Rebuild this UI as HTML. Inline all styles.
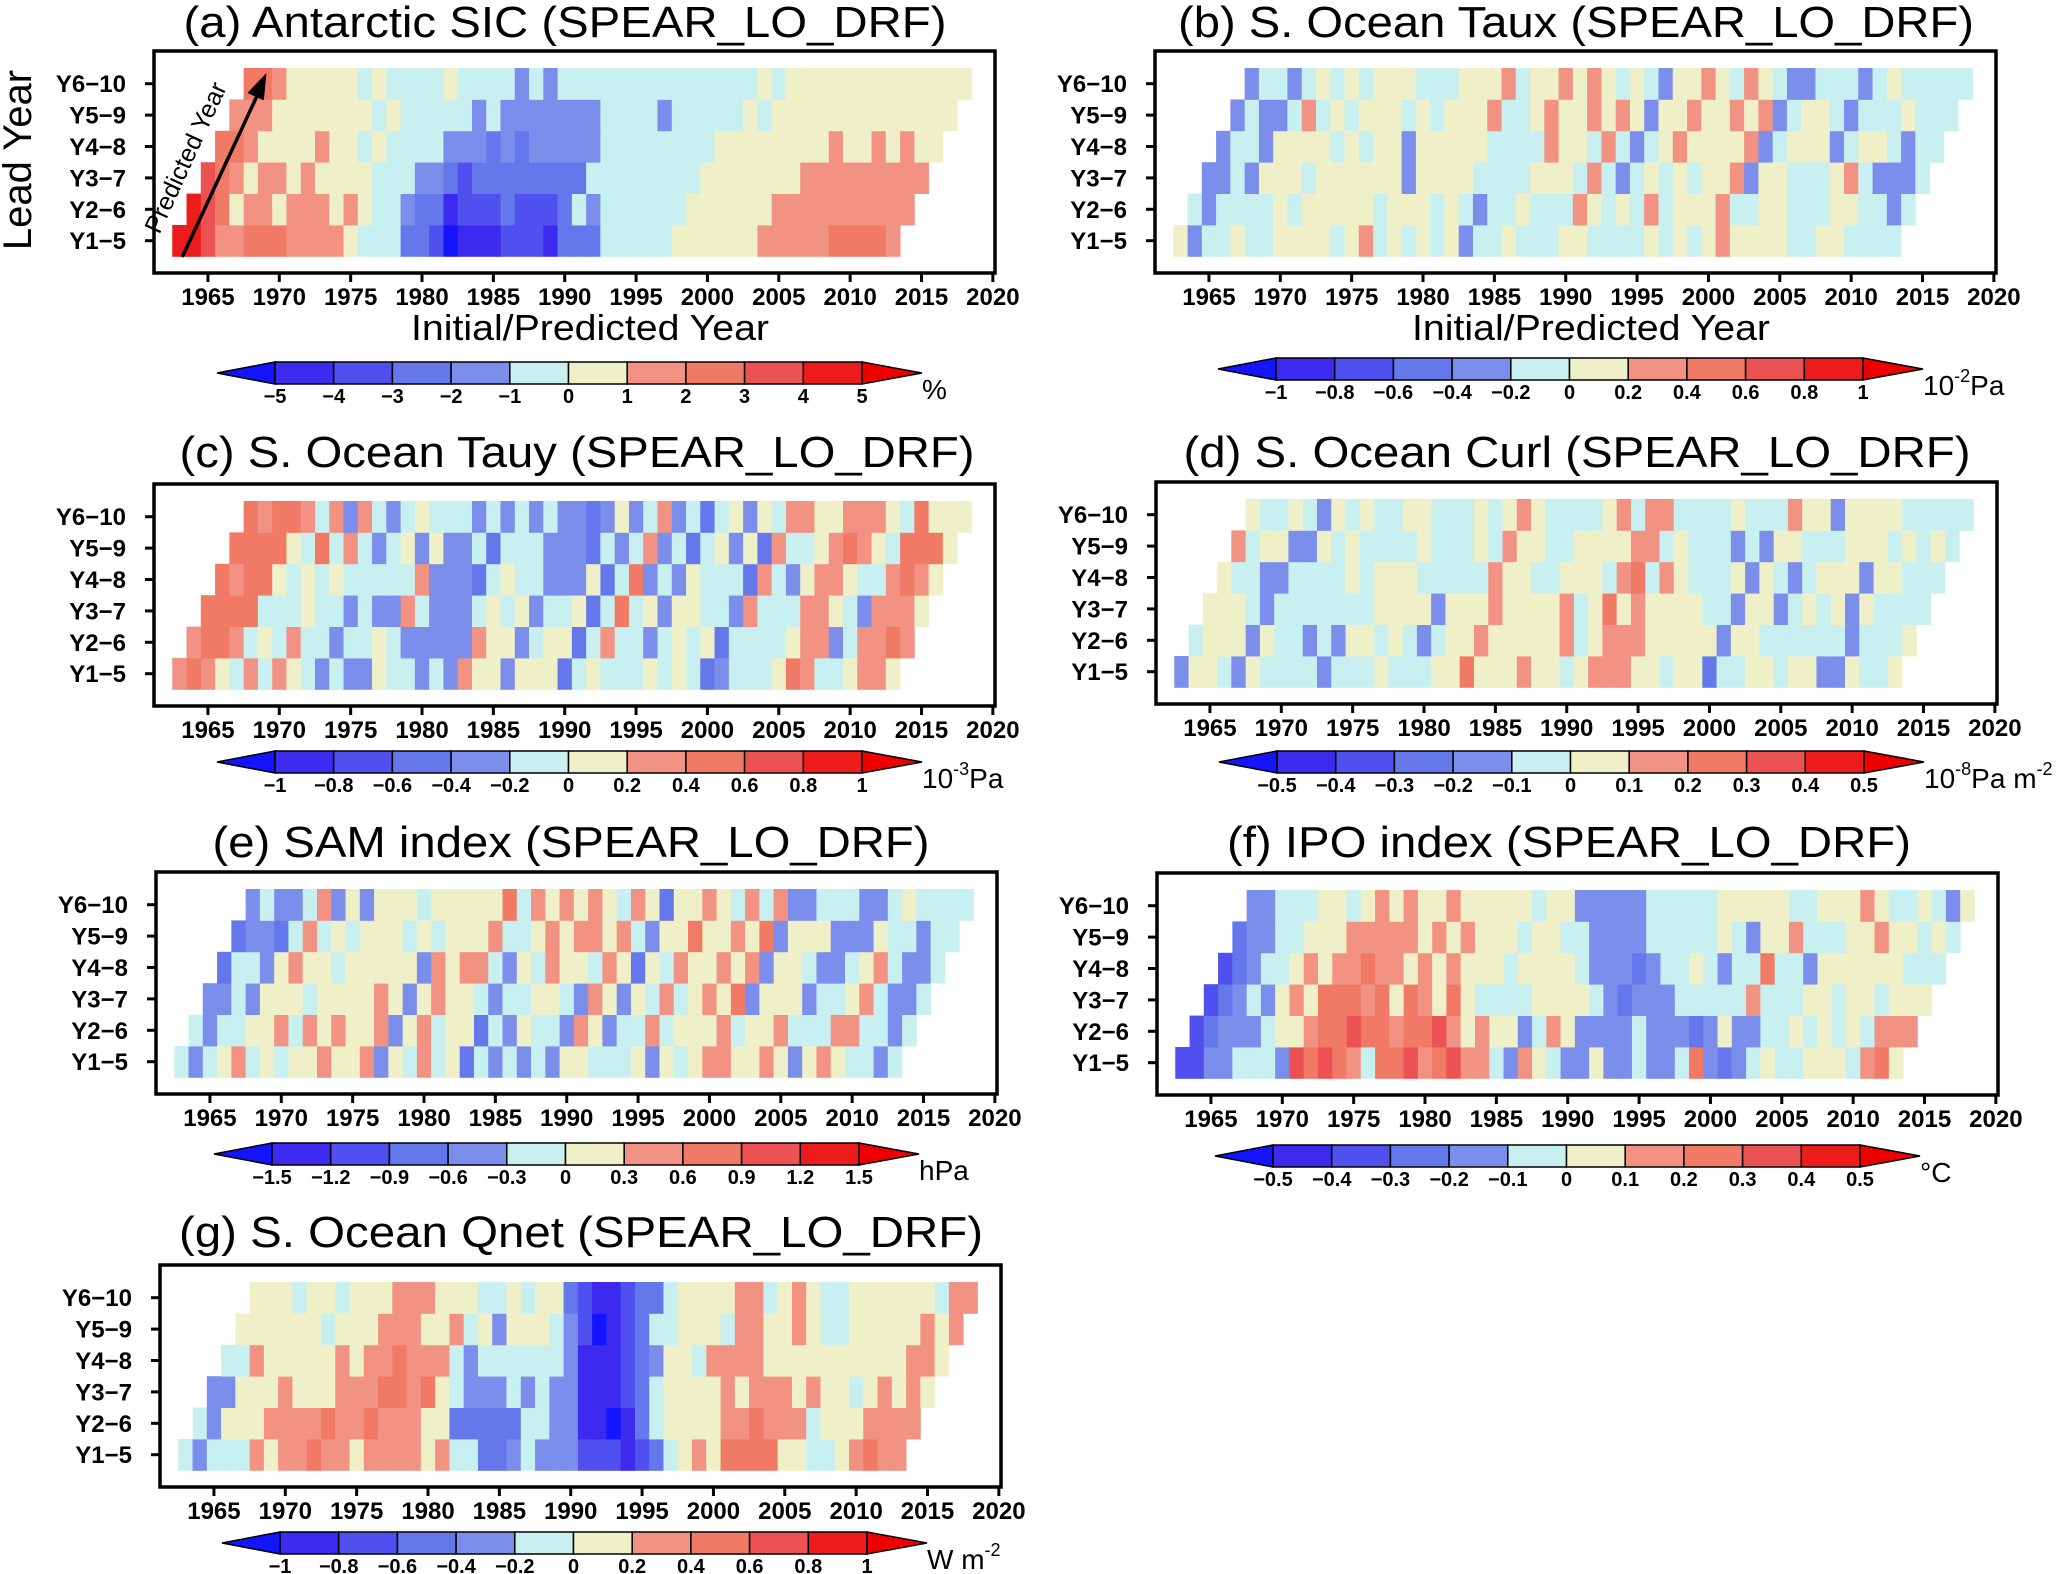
<!DOCTYPE html>
<html><head><meta charset="utf-8"><style>
body{margin:0;background:#fff}
svg{display:block;font-family:"Liberation Sans",Arial,sans-serif}
</style></head><body>
<svg id="fig" width="2067" height="1574" viewBox="0 0 2067 1574"></svg>
<script>
// Lead-year rows (Y1-5 first) and x-axis ticks
const leadLabels = ["Y1-5","Y2-6","Y3-7","Y4-8","Y5-9","Y6-10"];
const leadStartYears = [1963,1964,1965,1966,1967,1968];
const yearTicks = [1965,1970,1975,1980,1985,1990,1995,2000,2005,2010,2015,2020];
// Values are in units of each panel's colorbar interval
const sicRows = [
[4.5,4.5,3.5,1.5,1.5,2.5,2.5,2.5,1.5,1.5,1.5,1.5,.5,-.5,-.5,-.5,-2.5,-2.5,-3.5,-5.5,-4.5,-4.5,-4.5,-3.5,-3.5,-3.5,-4.5,-2.5,-2.5,-2.5,-.5,-.5,-.5,-.5,-.5,.5,.5,.5,.5,.5,.5,1.5,1.5,1.5,1.5,1.5,2.5,2.5,2.5,2.5,1.5],
[4.5,3.5,2.5,.5,1.5,1.5,.5,1.5,1.5,1.5,.5,1.5,.5,-.5,-.5,-1.5,-2.5,-2.5,-4.5,-3.5,-3.5,-3.5,-2.5,-3.5,-3.5,-3.5,-2.5,-.5,-1.5,-.5,-.5,-.5,-.5,-.5,-.5,.5,.5,.5,.5,.5,.5,1.5,1.5,1.5,1.5,1.5,1.5,1.5,1.5,1.5,1.5],
[3.5,2.5,1.5,.5,1.5,1.5,.5,1.5,.5,.5,.5,.5,-.5,-.5,-.5,-1.5,-1.5,-2.5,-3.5,-2.5,-2.5,-2.5,-2.5,-2.5,-2.5,-2.5,-2.5,-.5,-.5,-.5,-.5,-.5,-.5,-.5,-.5,.5,.5,.5,.5,.5,.5,.5,1.5,1.5,1.5,1.5,1.5,1.5,1.5,1.5,1.5],
[2.5,2.5,1.5,.5,.5,.5,.5,1.5,.5,.5,-.5,.5,-.5,-.5,-.5,-.5,-1.5,-1.5,-1.5,-2.5,-1.5,-2.5,-1.5,-1.5,-1.5,-1.5,-1.5,-.5,-.5,-.5,-.5,-.5,-.5,-.5,-.5,.5,.5,.5,.5,.5,.5,.5,.5,1.5,.5,.5,1.5,.5,1.5,.5,.5],
[1.5,1.5,1.5,.5,.5,.5,.5,.5,.5,.5,-.5,.5,-.5,-.5,-.5,-.5,-.5,-1.5,-.5,-1.5,-1.5,-1.5,-1.5,-1.5,-1.5,-1.5,-.5,-.5,-.5,-.5,-1.5,-.5,-.5,-.5,-.5,-.5,.5,-.5,.5,.5,.5,.5,.5,.5,.5,.5,.5,.5,.5,.5,.5],
[2.5,2.5,1.5,.5,.5,.5,.5,.5,-.5,.5,-.5,-.5,-.5,-.5,.5,-.5,-.5,-.5,-.5,-1.5,-.5,-1.5,-.5,-.5,-.5,-.5,-.5,-.5,-.5,-.5,-.5,-.5,-.5,-.5,-.5,-.5,.5,-.5,.5,.5,.5,.5,.5,.5,.5,.5,.5,.5,.5,.5,.5]];
const tauxRows = [
[.5,-1.5,-.5,-.5,.5,-.5,-.5,.5,.5,.5,.5,-.5,.5,1.5,-.5,.5,-.5,.5,-.5,.5,-1.5,-.5,-.5,.5,-.5,-.5,-.5,.5,.5,-.5,-.5,-.5,-.5,.5,-.5,.5,-.5,.5,1.5,.5,.5,.5,.5,-.5,-.5,.5,.5,-.5,-.5,-.5,-.5],
[-.5,-1.5,-.5,-.5,-.5,-.5,.5,-.5,.5,.5,.5,.5,.5,-.5,.5,.5,.5,-.5,.5,-.5,-1.5,-.5,-.5,.5,-.5,-.5,-.5,1.5,.5,-.5,.5,-.5,1.5,-.5,.5,.5,.5,1.5,-.5,-.5,.5,.5,-.5,-.5,-.5,.5,.5,-.5,-.5,-1.5,-.5],
[-1.5,-1.5,-.5,-1.5,.5,.5,.5,-.5,.5,.5,.5,.5,.5,.5,-1.5,.5,.5,.5,.5,-.5,-.5,-.5,-.5,.5,.5,.5,-.5,1.5,-.5,-1.5,-.5,.5,-.5,.5,-.5,.5,.5,1.5,-1.5,.5,.5,-.5,-.5,-.5,.5,1.5,-.5,-1.5,-1.5,-1.5,-.5],
[-1.5,-.5,-.5,-1.5,.5,.5,.5,.5,-.5,.5,-.5,.5,.5,-1.5,.5,.5,.5,.5,.5,-.5,-.5,-.5,-.5,1.5,.5,.5,-.5,1.5,-.5,-1.5,-.5,.5,1.5,.5,.5,.5,.5,1.5,-1.5,-.5,.5,.5,.5,-1.5,-.5,.5,.5,-.5,-1.5,-.5,-.5],
[-1.5,-.5,-1.5,-1.5,-.5,1.5,-.5,.5,-.5,.5,.5,.5,-.5,.5,-.5,.5,.5,.5,1.5,-.5,-.5,.5,1.5,.5,.5,1.5,.5,1.5,.5,-1.5,.5,.5,1.5,.5,.5,1.5,.5,1.5,-1.5,-.5,.5,.5,-.5,-1.5,-.5,-.5,-.5,.5,-.5,-.5,-.5],
[-1.5,-.5,-.5,-1.5,-.5,.5,-.5,.5,-.5,.5,.5,.5,-.5,-.5,-.5,.5,.5,.5,1.5,-.5,.5,.5,1.5,.5,1.5,.5,-.5,.5,-.5,-1.5,.5,.5,1.5,.5,-.5,1.5,.5,-.5,-1.5,-1.5,-.5,-.5,-.5,-1.5,-.5,.5,-.5,-.5,-.5,-.5,-.5]];
const tauyRows = [
[1.5,2.5,1.5,.5,-.5,1.5,-.5,1.5,.5,-.5,-1.5,-.5,-1.5,-1.5,.5,-.5,-.5,-1.5,-.5,-1.5,1.5,.5,.5,-1.5,.5,.5,.5,-2.5,-.5,.5,-.5,-.5,-.5,.5,-.5,.5,-.5,-2.5,-1.5,-.5,-.5,-.5,.5,2.5,1.5,-.5,-.5,.5,1.5,1.5,.5],
[1.5,2.5,2.5,1.5,-.5,.5,-.5,1.5,-.5,-.5,-1.5,-.5,-.5,.5,-.5,-1.5,-1.5,-1.5,-1.5,-1.5,1.5,.5,.5,-1.5,-.5,.5,.5,-2.5,-.5,1.5,-.5,-.5,-1.5,-.5,.5,-.5,.5,-2.5,-.5,-.5,-.5,-.5,.5,1.5,1.5,-1.5,-.5,1.5,1.5,2.5,1.5],
[2.5,2.5,2.5,2.5,-.5,-.5,-.5,.5,-.5,-.5,-1.5,-.5,-1.5,-1.5,1.5,-.5,-1.5,-1.5,-1.5,-.5,.5,-.5,.5,-1.5,-.5,-.5,.5,-2.5,-.5,2.5,-.5,.5,-1.5,.5,.5,-.5,-.5,-1.5,1.5,-.5,-.5,-.5,1.5,1.5,.5,-.5,-1.5,1.5,1.5,1.5,.5],
[2.5,1.5,2.5,2.5,.5,-.5,.5,-.5,.5,-.5,-.5,-.5,-.5,-.5,1.5,-1.5,-1.5,-1.5,-2.5,-.5,.5,-.5,-.5,-1.5,-1.5,-1.5,.5,-2.5,-.5,2.5,-1.5,-.5,-1.5,.5,-.5,-.5,-.5,-2.5,1.5,-.5,-1.5,.5,1.5,1.5,.5,-.5,-.5,1.5,2.5,1.5,.5],
[2.5,2.5,2.5,2.5,.5,-.5,2.5,-.5,1.5,-.5,-1.5,-.5,.5,-1.5,.5,-1.5,-1.5,-.5,-2.5,-.5,-.5,-.5,-1.5,-1.5,-1.5,-2.5,-.5,-1.5,-.5,1.5,-1.5,-.5,-2.5,-.5,.5,-1.5,.5,-2.5,1.5,-.5,-.5,.5,1.5,2.5,1.5,.5,-.5,2.5,2.5,2.5,.5],
[2.5,1.5,2.5,2.5,1.5,-.5,1.5,-1.5,1.5,-.5,-1.5,-.5,.5,-.5,-.5,-.5,-1.5,-.5,-1.5,-.5,-1.5,-.5,-1.5,-1.5,-2.5,-1.5,.5,-1.5,-.5,1.5,-1.5,-.5,-2.5,-.5,.5,-1.5,.5,-.5,1.5,1.5,.5,.5,1.5,1.5,1.5,.5,-.5,2.5,.5,.5,.5]];
const curlRows = [
[-1.5,.5,.5,-.5,-1.5,.5,-.5,-.5,-.5,-.5,-1.5,-.5,-.5,-.5,.5,-.5,-.5,-.5,.5,.5,2.5,.5,.5,.5,1.5,.5,.5,-.5,.5,1.5,1.5,1.5,.5,.5,-.5,.5,.5,-2.5,-.5,-.5,.5,.5,-.5,.5,.5,-1.5,-1.5,.5,-.5,-.5,.5],
[-.5,.5,.5,.5,-1.5,.5,-.5,-.5,-1.5,-.5,-1.5,.5,.5,-.5,.5,-.5,-1.5,-.5,.5,.5,1.5,.5,.5,.5,.5,.5,1.5,-.5,.5,1.5,1.5,1.5,.5,.5,.5,.5,.5,-1.5,.5,.5,-.5,-.5,-.5,-.5,-.5,-.5,-1.5,-.5,-.5,-.5,.5],
[.5,.5,.5,-.5,-1.5,-.5,-.5,-.5,-.5,-.5,-.5,-.5,.5,.5,.5,.5,-1.5,.5,.5,.5,1.5,.5,.5,.5,.5,1.5,-.5,.5,2.5,.5,1.5,.5,.5,.5,.5,-.5,-.5,-1.5,.5,.5,-1.5,-.5,.5,-.5,.5,-1.5,.5,-.5,-.5,-.5,-.5],
[.5,-.5,-.5,-1.5,-1.5,-.5,-.5,-.5,-.5,.5,-.5,.5,.5,.5,-.5,-.5,-.5,-.5,-.5,1.5,.5,.5,-.5,-.5,.5,.5,.5,-.5,1.5,2.5,-.5,1.5,.5,-.5,-.5,-.5,.5,-1.5,.5,-.5,-1.5,-.5,.5,.5,.5,-1.5,.5,.5,-.5,-.5,-.5],
[1.5,-.5,.5,.5,-1.5,-1.5,.5,-.5,.5,-.5,-.5,-.5,-.5,.5,-.5,-.5,-.5,.5,-.5,1.5,.5,.5,-.5,-.5,.5,.5,.5,.5,1.5,1.5,-.5,.5,-.5,-.5,-.5,-1.5,-.5,-1.5,.5,.5,-.5,-.5,-.5,.5,.5,.5,-.5,.5,-.5,.5,-.5],
[.5,-.5,-.5,.5,-.5,-1.5,.5,-.5,.5,-.5,-.5,.5,.5,-.5,-.5,-.5,.5,-.5,.5,1.5,.5,-.5,-.5,-.5,-.5,.5,1.5,-.5,1.5,1.5,-.5,-.5,-.5,-.5,.5,-.5,-.5,-.5,1.5,.5,.5,-1.5,.5,.5,.5,.5,-.5,-.5,-.5,-.5,-.5]];
const samRows = [
[-.5,-1.5,-.5,.5,1.5,-.5,.5,-.5,.5,.5,1.5,.5,.5,1.5,-1.5,.5,-.5,1.5,-.5,.5,-2.5,-.5,-1.5,-.5,-1.5,-.5,-1.5,.5,.5,-.5,-.5,-.5,.5,-1.5,.5,-.5,.5,1.5,1.5,.5,.5,1.5,.5,-1.5,.5,1.5,.5,-.5,-.5,-1.5,-.5],
[-.5,-1.5,-.5,-.5,.5,.5,1.5,-.5,1.5,.5,1.5,.5,.5,1.5,-1.5,.5,1.5,-.5,.5,.5,-2.5,-.5,-1.5,.5,-.5,-.5,-1.5,1.5,.5,-1.5,-.5,-.5,1.5,-.5,.5,.5,.5,1.5,-.5,.5,.5,1.5,-.5,-.5,-.5,1.5,1.5,-.5,-.5,-1.5,-.5],
[-1.5,-1.5,-.5,-1.5,.5,.5,.5,-.5,.5,.5,.5,.5,1.5,.5,-1.5,.5,1.5,.5,.5,-.5,-1.5,-.5,-.5,.5,.5,-.5,-1.5,1.5,.5,-1.5,.5,-.5,1.5,-.5,.5,1.5,.5,2.5,-1.5,.5,.5,.5,-1.5,-.5,-.5,.5,1.5,-.5,-1.5,-1.5,-.5],
[-2.5,-.5,-.5,-1.5,.5,1.5,.5,.5,-.5,.5,.5,.5,.5,.5,-1.5,1.5,.5,1.5,1.5,-.5,-1.5,.5,-.5,1.5,.5,.5,-.5,1.5,.5,-2.5,.5,-.5,1.5,.5,.5,1.5,.5,1.5,-1.5,.5,.5,-.5,-1.5,-1.5,-.5,.5,1.5,-.5,-1.5,-1.5,-.5],
[-2.5,-1.5,-1.5,-2.5,-.5,1.5,-.5,.5,-.5,.5,.5,.5,-.5,.5,-.5,.5,.5,.5,1.5,-.5,-.5,.5,1.5,.5,1.5,1.5,.5,1.5,-.5,-1.5,.5,.5,2.5,.5,.5,1.5,.5,2.5,-1.5,.5,.5,.5,-1.5,-1.5,-1.5,.5,-.5,-.5,-1.5,-.5,-.5],
[-1.5,-.5,-1.5,-1.5,-.5,1.5,-1.5,.5,-1.5,.5,.5,.5,-.5,.5,.5,.5,.5,.5,2.5,-.5,1.5,.5,1.5,.5,1.5,.5,-.5,1.5,.5,-2.5,.5,.5,1.5,.5,-.5,1.5,-.5,1.5,-1.5,-1.5,-.5,-.5,-.5,-1.5,-1.5,-.5,.5,-.5,-.5,-.5,-.5]];
const ipoRows = [
[-3.5,-3.5,-1.5,-1.5,-.5,-.5,-.5,-1.5,3.5,2.5,3.5,2.5,1.5,-.5,2.5,2.5,3.5,1.5,2.5,3.5,1.5,1.5,-.5,-1.5,1.5,.5,-.5,-1.5,-1.5,.5,-1.5,-1.5,-.5,-1.5,-1.5,-.5,2.5,-1.5,-2.5,-1.5,-.5,.5,-.5,-.5,.5,.5,.5,-.5,1.5,2.5,.5],
[-3.5,-2.5,-1.5,-1.5,-1.5,-.5,.5,.5,1.5,2.5,2.5,3.5,2.5,2.5,1.5,2.5,2.5,3.5,1.5,.5,1.5,.5,.5,-1.5,-.5,1.5,.5,-1.5,-1.5,-1.5,-1.5,-.5,-1.5,-1.5,-1.5,-2.5,-1.5,.5,-1.5,-1.5,-.5,-.5,.5,-.5,.5,-.5,.5,-.5,1.5,1.5,1.5],
[-3.5,-2.5,-1.5,-.5,-1.5,.5,1.5,.5,2.5,2.5,2.5,1.5,2.5,.5,2.5,1.5,.5,2.5,.5,-.5,-.5,-.5,-.5,.5,.5,.5,.5,-.5,-1.5,-2.5,-1.5,-1.5,-1.5,-.5,-.5,-.5,-.5,-.5,1.5,-.5,-.5,-.5,.5,.5,-.5,.5,.5,-.5,.5,.5,.5],
[-3.5,-2.5,-1.5,-.5,-.5,.5,1.5,.5,1.5,1.5,2.5,1.5,1.5,.5,1.5,.5,1.5,.5,.5,.5,-.5,.5,.5,.5,.5,-.5,-1.5,-1.5,-1.5,-2.5,-1.5,-.5,-.5,.5,-.5,-1.5,-.5,-.5,2.5,-.5,-.5,-1.5,.5,.5,.5,.5,.5,.5,-.5,-.5,-.5],
[-2.5,-1.5,-1.5,-.5,-.5,.5,.5,.5,1.5,1.5,1.5,1.5,1.5,.5,1.5,.5,1.5,.5,.5,.5,-.5,.5,.5,-.5,-.5,-1.5,-1.5,-1.5,-1.5,-.5,-.5,-.5,-.5,-.5,.5,-.5,-1.5,.5,.5,1.5,-.5,-.5,-.5,.5,.5,1.5,.5,.5,-.5,.5,-.5],
[-1.5,-1.5,-.5,-.5,-.5,.5,.5,-.5,.5,1.5,.5,1.5,.5,.5,1.5,.5,.5,.5,.5,.5,-.5,.5,.5,-1.5,-1.5,-1.5,-1.5,-1.5,-.5,-.5,-.5,-.5,-.5,.5,.5,.5,.5,.5,-.5,-.5,.5,.5,.5,1.5,.5,-.5,-.5,.5,-.5,-1.5,.5]];
const qnetRows = [
[-.5,-1.5,-.5,-.5,-.5,1.5,.5,1.5,1.5,2.5,1.5,1.5,.5,1.5,1.5,1.5,1.5,.5,1.5,-.5,-.5,-2.5,-2.5,-1.5,-.5,-1.5,-1.5,-1.5,-3.5,-3.5,-3.5,-4.5,-3.5,-2.5,-.5,.5,1.5,.5,2.5,2.5,2.5,2.5,.5,.5,-.5,-.5,.5,1.5,2.5,1.5,1.5],
[-.5,-1.5,.5,.5,.5,1.5,1.5,1.5,1.5,2.5,1.5,1.5,2.5,1.5,1.5,1.5,.5,.5,-2.5,-2.5,-2.5,-2.5,-2.5,-.5,-.5,-1.5,-1.5,-4.5,-4.5,-5.5,-4.5,-2.5,-.5,.5,.5,.5,.5,1.5,1.5,2.5,1.5,1.5,1.5,-.5,.5,.5,.5,1.5,1.5,1.5,1.5],
[-1.5,-1.5,.5,.5,.5,1.5,.5,.5,.5,1.5,1.5,1.5,2.5,2.5,1.5,2.5,.5,-.5,-1.5,-1.5,-1.5,-.5,-1.5,-.5,-1.5,-1.5,-4.5,-4.5,-4.5,-3.5,-2.5,-.5,.5,.5,.5,.5,1.5,.5,1.5,1.5,1.5,.5,1.5,.5,.5,-.5,.5,1.5,.5,1.5,.5],
[-.5,-.5,1.5,.5,.5,.5,.5,.5,1.5,.5,1.5,1.5,2.5,1.5,1.5,1.5,-.5,-1.5,-.5,-.5,-.5,-.5,-.5,-.5,-1.5,-4.5,-4.5,-4.5,-3.5,-2.5,-1.5,.5,.5,-.5,1.5,1.5,1.5,1.5,.5,.5,.5,.5,.5,.5,.5,.5,.5,.5,1.5,1.5,.5],
[.5,.5,.5,.5,.5,.5,-.5,.5,.5,.5,1.5,1.5,1.5,.5,.5,1.5,-.5,.5,-1.5,.5,.5,.5,-.5,-1.5,-3.5,-5.5,-4.5,-3.5,-2.5,-.5,-.5,.5,.5,.5,-.5,1.5,1.5,.5,.5,1.5,.5,-.5,-.5,.5,.5,.5,.5,.5,1.5,.5,1.5],
[.5,.5,.5,-.5,.5,.5,-.5,.5,.5,.5,1.5,1.5,1.5,.5,.5,.5,-.5,-.5,.5,-.5,.5,.5,-2.5,-3.5,-4.5,-4.5,-3.5,-2.5,-2.5,-.5,.5,.5,.5,.5,1.5,1.5,-.5,.5,1.5,.5,-.5,-.5,.5,.5,.5,.5,.5,.5,-.5,1.5,1.5]];
// Colorbar tick labels
const sicTicks = ["−5","−4","−3","−2","−1","0","1","2","3","4","5"];
const pa1Ticks = ["−1","−0.8","−0.6","−0.4","−0.2","0","0.2","0.4","0.6","0.8","1"];
const halfTicks = ["−0.5","−0.4","−0.3","−0.2","−0.1","0","0.1","0.2","0.3","0.4","0.5"];
const samTicks = ["−1.5","−1.2","−0.9","−0.6","−0.3","0","0.3","0.6","0.9","1.2","1.5"];

const binColors = ['#1414ff','#3c2aee','#5050ee','#6478ec','#7b8eec','#c8f0f0','#f0f0c8','#f29282','#f07a66','#ec5252','#ec1c1c','#ee0000'];
const NS = 'http://www.w3.org/2000/svg';
const svg = document.getElementById('fig');
function mk(tag, attrs, parent, text){
  const e = document.createElementNS(NS, tag);
  for (const k in attrs) e.setAttribute(k, attrs[k]);
  if (text !== undefined) e.textContent = text;
  (parent || svg).appendChild(e);
  return e;
}
function colorFor(v){ let i = Math.floor(v) + 6; if (i < 0) i = 0; if (i > 11) i = 11; return binColors[i]; }

const panels = [
 {key:'sic', rows:sicRows, L:154, T:51, title:'(a) Antarctic SIC (SPEAR_LO_DRF)', tx:565, tw:763, ty:37, cbx:275, cby:362, ticks:sicTicks, unit:[['%','']], xtitle:true, ylab:true},
 {key:'taux', rows:tauxRows, L:1155, T:51, title:'(b) S. Ocean Taux (SPEAR_LO_DRF)', tx:1576, tw:796, ty:37, cbx:1276, cby:358, ticks:pa1Ticks, unit:[['10',''],['-2','sup'],['Pa','']], xtitle:true},
 {key:'tauy', rows:tauyRows, L:154, T:484, title:'(c) S. Ocean Tauy (SPEAR_LO_DRF)', tx:577, tw:795, ty:467, cbx:275, cby:751, ticks:pa1Ticks, unit:[['10',''],['-3','sup'],['Pa','']]},
 {key:'curl', rows:curlRows, L:1156, T:482, title:'(d) S. Ocean Curl (SPEAR_LO_DRF)', tx:1577, tw:787, ty:467, cbx:1277, cby:751, ticks:halfTicks, unit:[['10',''],['-8','sup'],['Pa m',''],['-2','sup']]},
 {key:'sam', rows:samRows, L:156, T:872, title:'(e) SAM index (SPEAR_LO_DRF)', tx:571, tw:717, ty:857, cbx:272, cby:1143, ticks:samTicks, unit:[['hPa','']]},
 {key:'ipo', rows:ipoRows, L:1157, T:873, title:'(f) IPO index (SPEAR_LO_DRF)', tx:1569, tw:684, ty:857, cbx:1273, cby:1145, ticks:halfTicks, unit:[['°C','']]},
 {key:'qnet', rows:qnetRows, L:160, T:1265, title:'(g) S. Ocean Qnet (SPEAR_LO_DRF)', tx:581, tw:804, ty:1247, cbx:280, cby:1532, ticks:pa1Ticks, unit:[['W m',''],['-2','sup']]}
];
const W = 841, H = 222, Y0 = 1961.22, Y1 = 2020.15, rowH = 31.4, rowOff = 17;

panels.forEach(p => {
  const g = mk('g', {});
  
  
  const xs = y => p.L + (y - Y0) / (Y1 - Y0) * W;
  const rowTop = k => p.T + rowOff + (5 - k) * rowH;
  const yw = W / (Y1 - Y0);
  const t = mk('text', {x:p.tx, y:p.ty, 'text-anchor':'middle', 'font-size':44, textLength:p.tw, lengthAdjust:'spacingAndGlyphs'}, g, p.title);
  
  
  const cg = mk('g', {}, g);
  
  
  p.rows.forEach((vals, k) => {
    vals.forEach((v, i) => {
      const yr = leadStartYears[k] + i;
      const r = mk('rect', {x:xs(yr - 0.5), y:rowTop(k), width:yw + 0.4, height:rowH + 0.4, fill:colorFor(v)}, cg);
      
      
    });
  });
  const f = mk('rect', {x:p.L, y:p.T, width:W, height:H, fill:'none', stroke:'#000', 'stroke-width':3.5}, g);
  
  
  leadLabels.forEach((lab, k) => {
    const cy = rowTop(k) + rowH / 2;
    mk('line', {x1:p.L - 9, x2:p.L, y1:cy, y2:cy, stroke:'#000', 'stroke-width':3}, g);
    const yl = mk('text', {x:p.L - 28, y:cy + 8.5, 'text-anchor':'end', 'font-size':24, 'font-weight':'bold'}, g, lab.replace('-', '−'));
    
    
  });
  yearTicks.forEach(yr => {
    const x = xs(yr);
    mk('line', {x1:x, x2:x, y1:p.T + H, y2:p.T + H + 9, stroke:'#000', 'stroke-width':3}, g);
    const xl = mk('text', {x:x, y:p.T + 254, 'text-anchor':'middle', 'font-size':24, 'font-weight':'bold'}, g, String(yr));
    
    
  });
  if (p.xtitle) {
    const xt = mk('text', {x:p.L + 436, y:p.T + 289, 'text-anchor':'middle', 'font-size':36, textLength:358, lengthAdjust:'spacingAndGlyphs'}, g, 'Initial/Predicted Year');
    
    
  }
  if (p.ylab) {
    const yt = mk('text', {x:0, y:0, 'text-anchor':'middle', 'font-size':40, transform:'translate(31,160) rotate(-90)'}, g, 'Lead Year');
    
    
    const ax1 = xs(1963.2), ay1 = p.T + 206, ax2 = xs(1969.1), ay2 = p.T + 22;
    mk('line', {x1:ax1, y1:ay1, x2:ax2 - 3, y2:ay2 + 9, stroke:'#000', 'stroke-width':3.5}, g);
    const ang = Math.atan2(ay2 - ay1, ax2 - ax1);
    const hl = 26, hw = 9;
    const bx = ax2 - hl * Math.cos(ang), by = ay2 - hl * Math.sin(ang);
    const px = -Math.sin(ang) * hw, py = Math.cos(ang) * hw;
    const ah = mk('polygon', {points:`${ax2},${ay2} ${bx + px},${by + py} ${bx - px},${by - py}`, fill:'#000'}, g);
    
    
    const deg = ang * 180 / Math.PI;
    const at = mk('text', {x:0, y:0, 'font-size':25, 'text-anchor':'middle', transform:`translate(${xs(1963.9) + 1},${p.T + 110}) rotate(${deg})`}, g, 'Predicted Year');
    
    
  }
  const cb = mk('g', {}, g);
  
  
  const bw = 58.7, bh = 22, cx = p.cbx, cy = p.cby;
  mk('polygon', {points:`${cx},${cy} ${cx - 58},${cy + bh / 2} ${cx},${cy + bh}`, fill:binColors[0], stroke:'#000', 'stroke-width':1.5}, cb);
  for (let i = 0; i < 10; i++) {
    mk('rect', {x:cx + i * bw, y:cy, width:bw, height:bh, fill:binColors[i + 1], stroke:'#000', 'stroke-width':1.5}, cb);
  }
  const ex = cx + 10 * bw;
  mk('polygon', {points:`${ex},${cy} ${ex + 60},${cy + bh / 2} ${ex},${cy + bh}`, fill:binColors[11], stroke:'#000', 'stroke-width':1.5}, cb);
  p.ticks.forEach((lab, i) => {
    const tl = mk('text', {x:cx + i * bw, y:cy + bh + 19, 'text-anchor':'middle', 'font-size':20, 'font-weight':'bold'}, cb, lab);
    
    
  });
  const ut = mk('text', {x:ex + 60, y:cy + bh + 15, 'font-size':28}, cb);
  
  
  let prevSup = false;
  p.unit.forEach(([s, kind]) => {
    const ts = mk('tspan', {}, ut, s);
    if (kind === 'sup') { ts.setAttribute('dy', '-13'); ts.setAttribute('font-size', '18'); prevSup = true; }
    else if (prevSup) { ts.setAttribute('dy', '13'); prevSup = false; }
  });
});
</script>
</body></html>
